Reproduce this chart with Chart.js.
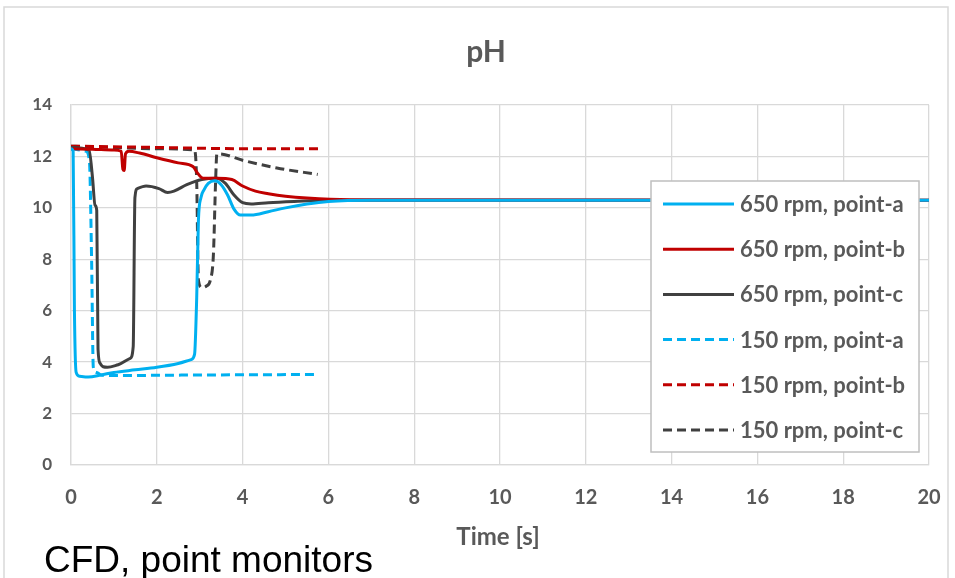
<!DOCTYPE html>
<html>
<head>
<meta charset="utf-8">
<script src="https://cdn.jsdelivr.net/npm/chart.js@4.4.0/dist/chart.umd.min.js"></script>
<style>
  html, body { margin: 0; padding: 0; background: #fff; }
</style>
</head>
<body>
<canvas id="phChart" width="955" height="578"></canvas>
<script>
// pH point monitors
const seriesNames = ['650 rpm, point-a', '650 rpm, point-b', '650 rpm, point-c',
  '150 rpm, point-a', '150 rpm, point-b', '150 rpm, point-c'];

const a650T = [0, 0.05, 0.08, 0.12, 0.2, 0.4, 0.7, 1.0, 1.5, 2.0, 2.5, 2.8, 2.88, 2.93, 2.97, 3.03, 3.1, 3.2, 3.35, 3.5, 3.65, 3.8, 3.95, 4.2, 4.6, 5.0, 5.5, 6.0, 7, 20];
const a650Y = [12.3, 12.2, 6.0, 3.6, 3.45, 3.42, 3.5, 3.6, 3.7, 3.8, 3.95, 4.1, 4.3, 6.5, 9.5, 10.4, 10.7, 10.95, 11.05, 10.9, 10.5, 9.95, 9.72, 9.72, 9.85, 10.0, 10.15, 10.25, 10.3, 10.3];

const b650T = [0, 0.5, 1.0, 1.17, 1.21, 1.24, 1.27, 1.35, 1.6, 2.0, 2.5, 2.85, 2.95, 3.08, 3.4, 3.75, 4.0, 4.3, 4.6, 5.0, 5.5, 6.5, 20];
const b650Y = [12.3, 12.28, 12.25, 12.2, 11.5, 11.45, 12.1, 12.2, 12.13, 11.95, 11.75, 11.6, 11.35, 11.15, 11.15, 11.1, 10.85, 10.65, 10.55, 10.45, 10.38, 10.32, 10.3];

const c650T = [0, 0.42, 0.5, 0.56, 0.6, 0.63, 0.68, 0.75, 0.85, 1.1, 1.38, 1.45, 1.49, 1.55, 1.75, 2.05, 2.25, 2.4, 2.7, 3.05, 3.4, 3.6, 3.8, 4.0, 4.2, 4.6, 5.2, 6.0, 20];
const c650Y = [12.35, 12.25, 11.2, 10.1, 9.9, 4.5, 3.95, 3.82, 3.8, 3.9, 4.15, 4.6, 10.4, 10.75, 10.85, 10.75, 10.6, 10.65, 10.9, 11.1, 11.15, 10.95, 10.5, 10.2, 10.15, 10.2, 10.25, 10.3, 10.3];

const a150T = [0, 0.35, 0.43, 0.48, 0.52, 0.6, 0.7, 1.0, 3.0, 5.75];
const a150Y = [12.3, 12.2, 11.8, 8.0, 3.8, 3.6, 3.5, 3.48, 3.5, 3.52];

const b150T = [0, 2, 4, 5.8];
const b150Y = [12.4, 12.35, 12.3, 12.3];

const c150T = [0, 1.0, 2.0, 2.88, 2.93, 2.97, 3.05, 3.15, 3.25, 3.32, 3.37, 3.4, 3.45, 4.0, 4.8, 5.75];
const c150Y = [12.4, 12.35, 12.3, 12.25, 11.0, 7.2, 6.9, 6.95, 7.2, 8.2, 11.0, 12.1, 12.1, 11.85, 11.55, 11.3];

const xTicks = [0, 2, 4, 6, 8, 10, 12, 14, 16, 18, 20];
const yTicks = [0, 2, 4, 6, 8, 10, 12, 14];

const CYAN = '#00b0f0', RED = '#c00000', DARK = '#404040';
const TEXT = '#595959', GRID = '#d9d9d9';

function pts(ts, ys) {
  return ts.map((t, i) => ({ x: t, y: ys[i] }));
}

function line(label, ts, ys, color, dashed) {
  return {
    label: label,
    data: pts(ts, ys),
    borderColor: color,
    backgroundColor: color,
    borderWidth: 3,
    borderDash: dashed ? [9, 5] : [],
    pointRadius: 0,
    fill: false,
    cubicInterpolationMode: 'monotone'
  };
}

const datasets = [
  line(seriesNames[0], a650T, a650Y, CYAN, false),
  line(seriesNames[1], b650T, b650Y, RED, false),
  line(seriesNames[2], c650T, c650Y, DARK, false),
  line(seriesNames[3], a150T, a150Y, CYAN, true),
  line(seriesNames[4], b150T, b150Y, RED, true),
  line(seriesNames[5], c150T, c150Y, DARK, true)
];

// texts, frame and the boxed legend inside the plot
const decor = {
  id: 'decor',
  beforeDraw(chart) {
    const c = chart.ctx;
    c.save();
    c.fillStyle = '#fff';
    c.fillRect(0, 0, chart.width, chart.height);
    c.strokeStyle = GRID;
    c.lineWidth = 1.5;
    c.strokeRect(4, 7, 944, 600);
    c.restore();
  },
  afterDraw(chart) {
    const c = chart.ctx;
    c.save();
    // title
    c.fillStyle = TEXT;
    c.font = 'bold 30px Lato';
    c.textAlign = 'center';
    c.textBaseline = 'alphabetic';
    c.fillText('pH', 486, 62);
    // x axis title
    c.font = 'bold 24px Lato';
    c.fillText('Time [s]', 498, 545);
    // caption
    c.fillStyle = '#000';
    c.font = '37px "Liberation Sans"';
    c.textAlign = 'left';
    c.fillText('CFD, point monitors', 44, 572);

    // legend
    const lx = 651, ly = 181, lw = 268, lh = 271;
    c.fillStyle = '#fff';
    c.fillRect(lx, ly, lw, lh);
    c.strokeStyle = '#bfbfbf';
    c.lineWidth = 1.5;
    c.strokeRect(lx, ly, lw, lh);
    c.font = 'bold 22px Lato';
    c.textBaseline = 'middle';
    chart.data.datasets.forEach((ds, i) => {
      const y = 204 + i * 45.2;
      c.strokeStyle = ds.borderColor;
      c.lineWidth = 3;
      c.setLineDash(ds.borderDash);
      c.beginPath();
      c.moveTo(663, y);
      c.lineTo(734, y);
      c.stroke();
      c.setLineDash([]);
      c.fillStyle = TEXT;
      c.fillText(ds.label, 740, y + 1);
    });
    c.restore();
  }
};

new Chart(document.getElementById('phChart').getContext('2d'), {
  type: 'line',
  data: { datasets: datasets },
  options: {
    responsive: false,
    animation: false,
    layout: { padding: { left: 0, top: 105, right: 26, bottom: 0 } },
    plugins: {
      legend: { display: false },
      title: { display: false },
      tooltip: { enabled: false }
    },
    scales: {
      x: {
        type: 'linear',
        min: 0,
        max: 20,
        afterFit: s => { s.height = 113; s.paddingRight = 0; s.paddingLeft = 0; },
        afterBuildTicks: s => { s.ticks = xTicks.map(v => ({ value: v })); },
        grid: { color: GRID, lineWidth: 1.3, drawTicks: false },
        border: { color: GRID, width: 1.3 },
        ticks: { padding: 21, color: TEXT, font: { family: 'Lato', size: 20, weight: 'bold' } }
      },
      y: {
        min: 0,
        max: 14,
        afterFit: s => { s.width = 71; },
        afterBuildTicks: s => { s.ticks = yTicks.map(v => ({ value: v })); },
        grid: { color: GRID, lineWidth: 1.3, drawTicks: false },
        border: { color: GRID, width: 1.3 },
        ticks: { padding: 19, color: TEXT, font: { family: 'Lato', size: 17, weight: 'bold' } }
      }
    }
  },
  plugins: [decor]
});
</script>
</body>
</html>
